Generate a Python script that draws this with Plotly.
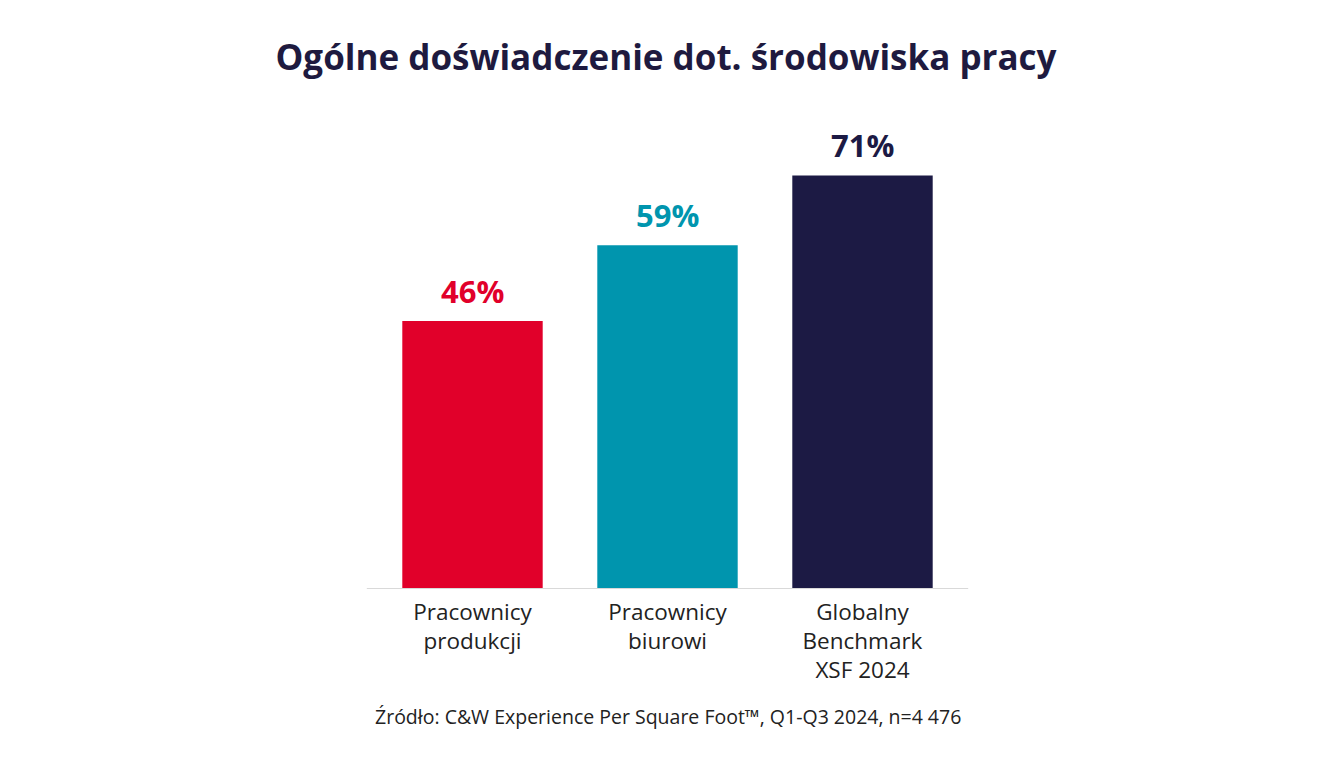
import plotly.graph_objects as go

categories = ["Pracownicy<br>produkcji", "Pracownicy<br>biurowi", "Globalny<br>Benchmark<br>XSF 2024"]
values = [46, 59, 71]
colors = ["#E1002A", "#0095AE", "#1C1A44"]

fig = go.Figure()
fig.add_trace(go.Bar(
    x=categories,
    y=values,
    marker=dict(color=colors, line=dict(width=0)),
    width=0.72,
    hoverinfo="skip",
))

# etykiety wartości nad słupkami
for cat, val, col in zip(categories, values, colors):
    fig.add_annotation(
        x=cat, y=val, text=f"<b>{val}%</b>",
        showarrow=False, yanchor="bottom", yshift=7,
        font=dict(family="Open Sans", size=31, color=col),
    )

# linia bazowa
fig.add_shape(
    type="line", xref="paper", yref="y",
    x0=-0.014, x1=1.014, y0=0, y1=0,
    line=dict(color="#D9D9D9", width=2),
)

fig.add_annotation(
    text="Źródło: C&W Experience Per Square Foot™, Q1-Q3 2024, n=4 476",
    xref="paper", yref="paper", x=0.5, y=0, yshift=-127,
    showarrow=False, yanchor="middle",
    font=dict(family="Open Sans", size=19.5, color="#222222"),
)

fig.update_layout(
    title=dict(
        text="<b>Ogólne doświadczenie dot. środowiska pracy</b>",
        x=0.4896, xanchor="center", y=0.935, yanchor="middle",
        font=dict(family="Open Sans", size=35, color="#1E1A3F"),
    ),
    width=1344, height=768,
    margin=dict(l=367, r=392, t=115, b=187),
    plot_bgcolor="white", paper_bgcolor="white",
    showlegend=False,
    xaxis=dict(
        showline=False, showgrid=False, ticks="",
        ticklabelstandoff=7,
        tickfont=dict(family="Open Sans", size=22.5, color="#222222"),
    ),
    yaxis=dict(range=[0, 80], visible=False, showgrid=False),
)

fig.write_html("out.html")
